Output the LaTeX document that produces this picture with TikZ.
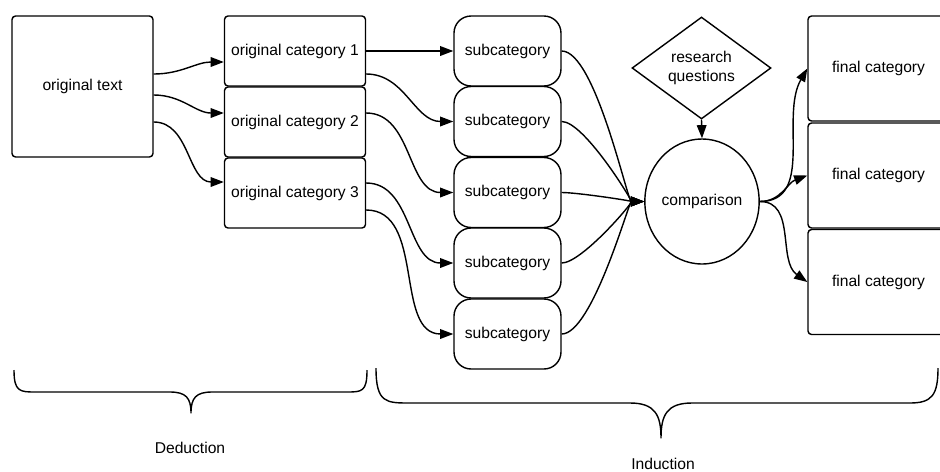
\documentclass[tikz,border=0pt]{standalone}
\usepackage{fontspec}
\setmainfont{Liberation Sans}
\usetikzlibrary{arrows.meta,shapes.geometric}

\begin{document}
\begin{tikzpicture}[x=0.02cm,y=-0.02cm,line width=0.8pt,
    every node/.style={font=\fontsize{8.9}{10.8}\selectfont},
    box/.style={draw,rounded corners=2pt,minimum width=2.82cm,minimum height=1.4cm,inner sep=0pt},
    bigbox/.style={box,minimum height=2.82cm},
    finbox/.style={box,minimum height=2.1cm},
    subbox/.style={draw,rounded corners=0.34cm,minimum width=2.14cm,minimum height=1.4cm,inner sep=0pt},
    decision/.style={draw,diamond,minimum width=2.78cm,minimum height=2.04cm,inner sep=0pt,align=center},
    oval/.style={draw,ellipse,minimum width=2.12cm,minimum height=2.5cm,inner sep=0pt},
    arr/.style={-{Triangle[length=7.5pt,width=5.5pt]},line join=round}]
  \useasboundingbox (0,0) rectangle (940,471);

  % deduction part
  \node[bigbox] (orig) at (82.5,86.5) {original text};
  \node[box] (cat1) at (295,51) {original category 1};
  \node[box] (cat2) at (295,122) {original category 2};
  \node[box] (cat3) at (295,193) {original category 3};

  \draw[arr] ([yshift=0.25cm]orig.east) to[out=0,in=180] ([yshift=-0.22cm]cat1.west);
  \draw[arr] ([yshift=-0.17cm]orig.east) to[out=0,in=180] ([yshift=0.18cm]cat2.west);
  \draw[arr] ([yshift=-0.71cm]orig.east) to[out=0,in=180] ([yshift=0.22cm]cat3.west);

  % subcategories
  \foreach \i/\y in {1/51,2/121.5,3/192.5,4/263,5/334}
    \node[subbox] (sub\i) at (507.5,\y) {subcategory};

  \draw[arr] (cat1.east) -- (sub1.west);
  \draw[arr] ([yshift=-0.46cm]cat1.east) to[out=0,in=180] (sub2.west);
  \draw[arr] ([yshift=0.18cm]cat2.east) to[out=0,in=180] (sub3.west);
  \draw[arr] ([yshift=0.2cm]cat3.east) to[out=0,in=180] (sub4.west);
  \draw[arr] ([yshift=-0.34cm]cat3.east) to[out=0,in=180] (sub5.west);

  % comparison
  \node[decision] (rq) at (701.5,68) {research\\questions};
  \node[oval] (cmp) at (702,201.5) {comparison};
  \draw[arr] (rq.south) -- (cmp.north);

  \foreach \i in {1,...,5}
    \draw[arr] (sub\i.east) to[out=0,in=180,out looseness=0.5,in looseness=0.25] (cmp.west);

  % final categories
  \node[finbox] (fin1) at (878.5,68.5) {final category};
  \node[finbox] (fin2) at (878.5,175.5) {final category};
  \node[finbox] (fin3) at (878.5,282) {final category};

  \draw[arr] (cmp.east) to[out=0,in=240] (fin1.west);
  \draw[arr] (cmp.east) to[out=0,in=200] (fin2.west);
  \draw[arr] (cmp.east) to[out=0,in=145] (fin3.west);

  % braces
  \draw[line join=round] (14,370) .. controls (14,392) and (20,392) .. (36,392) -- (170,392)
    .. controls (186,392) and (191,398) .. (191,413)
    .. controls (191,398) and (196,392) .. (212,392) -- (346,392)
    .. controls (362,392) and (367,392) .. (367,370);
  \node (ded) at (190,448) {Deduction};

  \draw[line join=round] (376,368) .. controls (376,403) and (386,403) .. (410,403) -- (630,403)
    .. controls (655,403) and (661,415) .. (661,438)
    .. controls (661,415) and (667,403) .. (692,403) -- (910,403)
    .. controls (932,403) and (938,395) .. (938,368);
  \node (ind) at (663,464) {Induction};
\end{tikzpicture}
\end{document}
